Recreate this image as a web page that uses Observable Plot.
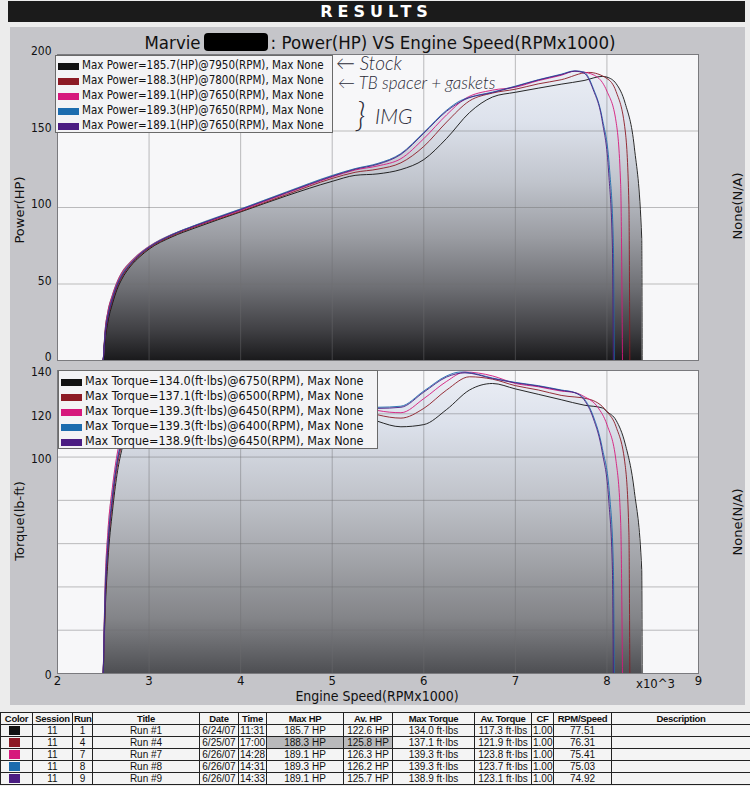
<!DOCTYPE html>
<html><head><meta charset="utf-8">
<script src="https://cdn.jsdelivr.net/npm/d3@7"></script>
<script src="https://cdn.jsdelivr.net/npm/@observablehq/plot@0.6"></script>
<style>
body{margin:0;background:#ececec;}
#page{position:relative;width:750px;height:786px;overflow:hidden;background:#ececec;font-family:"DejaVu Sans",sans-serif;color:#111;}
.abs{position:absolute;}
#bar{left:8px;top:1px;width:737px;height:21px;background:#1b1b1b;color:#fff;font:bold 16px "DejaVu Sans",sans-serif;letter-spacing:5px;text-align:center;line-height:21px;}
#panel{left:10px;top:27px;width:735px;height:678px;background:#c5c5c9;}
#title{left:60px;top:33px;width:640px;text-align:center;font-family:"DejaVu Sans Condensed","DejaVu Sans",sans-serif;font-stretch:condensed;font-size:18.5px;line-height:18px;}
.redact{display:inline-block;width:64px;height:18px;background:#000;border-radius:4px;vertical-align:-2px;margin:0 3px;}
.rot{transform:translate(-50%,-50%) rotate(-90deg);white-space:nowrap;font-size:13px;}
.leg{background:#f3f3f5;border:1px solid #6a6a6a;font-family:"DejaVu Sans Condensed","DejaVu Sans",sans-serif;font-stretch:condensed;box-sizing:border-box;padding:2px 0 0 2px;}
.leg div{white-space:nowrap;line-height:15px;height:15px;}
.sw{display:inline-block;width:21px;height:7px;margin-right:3px;vertical-align:-1px;}
.hand{font-family:Lato,"DejaVu Sans",sans-serif;font-style:italic;font-weight:300;color:#2b2b38;white-space:nowrap;}
#tbl{left:0;top:712px;width:750px;border-collapse:collapse;table-layout:fixed;font-family:"Liberation Sans Narrow","Liberation Sans",sans-serif;font-stretch:condensed;font-size:10px;background:#f4f4f4;}
#tbl td,#tbl th{border:1px solid #222;height:11px;padding:0 1px;text-align:center;line-height:11px;white-space:nowrap;overflow:hidden;}
#tbl th{font-weight:bold;font-size:9.5px;letter-spacing:-0.3px;}
#tbl .hl{background:#b9b9bb;}
.csw{display:inline-block;width:11px;height:9px;vertical-align:-1px;}
</style></head><body>
<div id="page">
  <div id="bar" class="abs">RESULTS</div>
  <div id="panel" class="abs"></div>
  <div id="title" class="abs">Marvie<span class="redact"></span>: Power(HP) VS Engine Speed(RPMx1000)</div>
  <div id="topChart" class="abs" style="left:0;top:47px;"></div>
  <div id="botChart" class="abs" style="left:0;top:362px;"></div>
  <div class="abs rot" style="left:19px;top:210px;">Power(HP)</div>
  <div class="abs rot" style="left:19px;top:521px;">Torque(lb-ft)</div>
  <div class="abs rot" style="left:737px;top:206px;">None(N/A)</div>
  <div class="abs rot" style="left:737px;top:522px;">None(N/A)</div>
  <div class="abs" style="left:377px;top:688px;transform:translateX(-50%);font-size:14px;line-height:16px;font-family:'DejaVu Sans Condensed','DejaVu Sans',sans-serif;font-stretch:condensed;white-space:nowrap;">Engine Speed(RPMx1000)</div>
  <div class="abs" style="left:636px;top:676px;font-size:13px;font-family:'DejaVu Sans Condensed','DejaVu Sans',sans-serif;font-stretch:condensed;">x10^3</div>
  <div id="legTop" class="abs leg" style="left:55px;top:55px;width:278px;height:78px;font-size:11.5px;"></div>
  <div id="legBot" class="abs leg" style="left:58px;top:370px;width:320px;height:79px;font-size:12.5px;"></div>
  <div class="abs hand" style="left:336px;top:55px;font-size:19px;line-height:16px;">&larr; Stock</div>
  <div class="abs hand" style="left:338px;top:75px;font-size:17px;line-height:15px;">&larr; TB spacer + gaskets</div>
  <div class="abs hand" style="left:356px;top:97px;font-size:34px;line-height:34px;">}</div>
  <div class="abs hand" style="left:375px;top:106px;font-size:21px;line-height:20px;">IMG</div>
  <table id="tbl" class="abs"></table>
</div>
<script>
// ---- series meta ----
const runNames = ["Run #1", "Run #4", "Run #7", "Run #8", "Run #9"];
const runColors = ["#111111", "#8c1a24", "#d6187c", "#1c6cae", "#4b1d82"];
const powerLegend = [
  "Max Power=185.7(HP)@7950(RPM), Max None",
  "Max Power=188.3(HP)@7800(RPM), Max None",
  "Max Power=189.1(HP)@7650(RPM), Max None",
  "Max Power=189.3(HP)@7650(RPM), Max None",
  "Max Power=189.1(HP)@7650(RPM), Max None"
];
const torqueLegend = [
  "Max Torque=134.0(ft·lbs)@6750(RPM), Max None",
  "Max Torque=137.1(ft·lbs)@6500(RPM), Max None",
  "Max Torque=139.3(ft·lbs)@6450(RPM), Max None",
  "Max Torque=139.3(ft·lbs)@6400(RPM), Max None",
  "Max Torque=138.9(ft·lbs)@6450(RPM), Max None"
];

// ---- Run #1 (stock) ----
const rpmRun1 = [2500,2520,2550,2600,2650,2700,2800,2900,3000,3250,3500,4000,4500,5000,5250,5500,5750,6000,6250,6500,6750,7000,7250,7500,7750,7950,8000,8100,8200,8300,8380,8385];
const hpRun1  = [0,13.4,25.2,37.1,46.4,52.9,61.8,67.9,72.8,80.8,86.6,97.1,107.6,117.1,121,122,124.8,131.3,145.2,162.1,172.2,175.3,178,180.6,183,185.7,185.2,181,168,139,80,0];
const tqRun1  = [0,28,52,75,92,103,116,123,127.5,130.5,130,127.5,125.5,123,121,116.5,114,115,122,131,134,131.5,129,126.5,124,122.7,121,117,106,84,48,0];
// ---- Run #4 (TB spacer + gaskets) ----
const rpmRun4 = [2500,2520,2550,2600,2650,2700,2800,2900,3000,3250,3500,4000,4500,5000,5250,5500,5750,6000,6250,6500,6750,7000,7250,7500,7800,8000,8100,8200,8240,8250];
const hpRun4  = [0,14.9,27.2,39.1,47.9,54.2,62.6,68.7,73.4,81.4,87.3,97.5,108.4,119,123,125.1,129.2,139.9,155.9,169.7,174.8,177.3,180.8,183.5,188.3,184.3,175.8,150,102,0];
const tqRun4  = [0,31,56,79,95,105.5,117.5,124.5,128.5,131.5,131,128,126.5,125,123,119.5,118,122.5,131,137.1,136,133,131,128.5,126.8,121,114,96,65,0];
// ---- Run #7 (IMG) ----
const rpmRun7 = [2500,2520,2550,2600,2650,2700,2800,2900,3000,3250,3500,4000,4500,5000,5250,5500,5750,6000,6250,6450,6750,7000,7250,7500,7650,7750,7900,8000,8100,8150,8170];
const hpRun7  = [0,19.2,31.6,42.6,51,57.1,64.5,70.1,74.5,82.3,87.9,98.2,109.3,120,124.5,127.2,131.9,145,160.6,171.1,176.7,178.6,182.9,186.4,189.1,188.5,185,176,156,115,0];
const tqRun7  = [0,40,65,86,101,111,121,127,130.5,133,132,129,127.5,126,124.5,121.5,120.5,127,135,139.3,137.5,134,132.5,130.5,129.8,128,123,115,98,70,0];
// ---- Run #8 (IMG) ----
const rpmRun8 = [2500,2520,2550,2600,2650,2700,2800,2900,3000,3250,3500,4000,4500,5000,5250,5500,5750,6000,6250,6400,6500,6750,7000,7250,7500,7650,7750,7850,7950,8030,8070,8080];
const hpRun8  = [0,17.3,29.1,40.6,49.5,55.5,63.4,69.6,74.2,82.3,88.3,99,110.1,120.9,125.4,128.8,135.2,149,163.6,169.8,172,175.4,179.3,183.5,187.1,189.3,188.5,178,158,124,77,0];
const tqRun8  = [0,36,60,82,98,108,119,126,130,133,132.5,130,128.5,127,125.5,123,123.5,130.5,137.5,139.3,139,136.5,134.5,133,131,129.8,127,119,104,82,50,0];
// ---- Run #9 (IMG) ----
const rpmRun9 = [2500,2520,2550,2600,2650,2700,2800,2900,3000,3250,3500,4000,4500,5000,5250,5500,5750,6000,6250,6450,6750,7000,7250,7500,7650,7750,7850,7950,8020,8060,8070];
const hpRun9  = [0,16.3,28.2,40.1,48.9,55,63.2,69.3,73.9,82,88,98.6,109.7,120.4,125,128.3,134.7,148.5,163,170.6,175.1,179,183.3,186.8,189.1,187.8,177,156,122,74,0];
const tqRun9  = [0,34,58,81,97,107,118.5,125.5,129.5,132.5,132,129.5,128,126.5,125,122.5,123,130,137,138.9,136.3,134.3,132.8,130.8,129.7,126.5,118,102,80,48,0];

// ---- axes ----
const xTicks = [2,3,4,5,6,7,8,9];
const hpTicks = [0,50,100,150,200];
const tqGrid = [0,20,40,60,80,100,120,140];
const tqLabels = [0,100,120,140];

// ---- results table ----
const tblHeader = ["Color","Session","Run","Title","Date","Time","Max HP","Av. HP","Max Torque","Av. Torque","CF","RPM/Speed","Description"];
const tblSession = ["11","11","11","11","11"];
const tblRun = ["1","4","7","8","9"];
const tblDate = ["6/24/07","6/25/07","6/26/07","6/26/07","6/26/07"];
const tblTime = ["11:31","17:00","14:28","14:31","14:33"];
const tblMaxHP = ["185.7 HP","188.3 HP","189.1 HP","189.3 HP","189.1 HP"];
const tblAvHP = ["122.6 HP","125.8 HP","126.3 HP","126.2 HP","125.7 HP"];
const tblMaxTq = ["134.0 ft·lbs","137.1 ft·lbs","139.3 ft·lbs","139.3 ft·lbs","138.9 ft·lbs"];
const tblAvTq = ["117.3 ft·lbs","121.9 ft·lbs","123.8 ft·lbs","123.7 ft·lbs","123.1 ft·lbs"];
const tblCF = ["1.00","1.00","1.00","1.00","1.00"];
const tblRpmSpeed = ["77.51","76.31","75.41","75.03","74.92"];
const tblColWidths = [32,40,20,107,39,28,77,49,82,57,22,58,139];

// ---- build ----
const rpmAll = [rpmRun1, rpmRun4, rpmRun7, rpmRun8, rpmRun9];
const hpAll = [hpRun1, hpRun4, hpRun7, hpRun8, hpRun9];
const tqAll = [tqRun1, tqRun4, tqRun7, tqRun8, tqRun9];
const series = runNames.map((name, i) => ({
  name, color: runColors[i],
  rows: rpmAll[i].map((r, j) => ({x: r / 1000, hp: hpAll[i][j], tq: tqAll[i][j]}))
}));

function addGradient(svg, id, y1, y2, stops) {
  const ns = "http://www.w3.org/2000/svg";
  const defs = document.createElementNS(ns, "defs");
  const g = document.createElementNS(ns, "linearGradient");
  g.setAttribute("id", id);
  g.setAttribute("gradientUnits", "userSpaceOnUse");
  g.setAttribute("x1", 0); g.setAttribute("x2", 0);
  g.setAttribute("y1", y1); g.setAttribute("y2", y2);
  for (const [o, c] of stops) {
    const s = document.createElementNS(ns, "stop");
    s.setAttribute("offset", o); s.setAttribute("stop-color", c);
    g.appendChild(s);
  }
  defs.appendChild(g);
  svg.insertBefore(defs, svg.firstChild);
}

const baseStyle = {background: "transparent", fontFamily: "'DejaVu Sans Condensed','DejaVu Sans',sans-serif", fontSize: "12px", color: "#111", overflow: "visible"};

function chart({key, domain, grid, labels, gradId, height, mt, mb, xAxis, labelDy}) {
  const marks = [
    Plot.frame({fill: "#f7f7f9"}),
    ...series.map(s => Plot.areaY(s.rows, {x: "x", y: key, fill: `url(#${gradId})`, curve: "monotone-x"})),
    Plot.gridX(xTicks, {stroke: "#6e6e72", strokeOpacity: 0.45}),
    Plot.gridY(grid, {stroke: "#6e6e72", strokeOpacity: 0.45}),
    ...series.map(s => Plot.lineY(s.rows, {x: "x", y: key, stroke: s.color, strokeWidth: 0.9, curve: "monotone-x"})),
    Plot.axisY(labels, {tickSize: 0, tickPadding: 6, fontSize: 12, label: null, dy: labelDy}),
    Plot.frame({stroke: "#7a7a7e"})
  ];
  if (xAxis) marks.push(Plot.axisX(xTicks, {tickSize: 0, tickPadding: 2, fontSize: 13, label: null}));
  return Plot.plot({
    width: 750, height, marginLeft: 57, marginRight: 52, marginTop: mt, marginBottom: mb,
    style: baseStyle,
    x: {domain: [2, 9], axis: null, label: null},
    y: {domain, axis: null, label: null},
    marks
  });
}

const topSvg = chart({key: "hp", domain: [0, 200], grid: hpTicks, labels: hpTicks, gradId: "gTop", height: 316, mt: 7, mb: 3, xAxis: false, labelDy: -3});
addGradient(topSvg, "gTop", 7, 313, [[0, "#eef1f7"], [0.22, "#dde2ec"], [0.42, "#c0c4cc"], [0.6, "#9a9ca2"], [0.76, "#6f7075"], [0.9, "#414145"], [1, "#1a1a1c"]]);
document.getElementById("topChart").appendChild(topSvg);

const botSvg = chart({key: "tq", domain: [0, 140], grid: tqGrid, labels: tqLabels, gradId: "gBot", height: 341, mt: 8, mb: 30, xAxis: true, labelDy: 2});
addGradient(botSvg, "gBot", 8, 311, [[0, "#eceff6"], [0.18, "#dce1eb"], [0.42, "#c0c3ca"], [0.62, "#a3a5aa"], [0.82, "#838488"], [1, "#4e4f53"]]);
document.getElementById("botChart").appendChild(botSvg);

// legends
function fillLegend(id, labels) {
  const el = document.getElementById(id);
  labels.forEach((t, i) => {
    const row = document.createElement("div");
    const sw = document.createElement("span");
    sw.className = "sw"; sw.style.background = runColors[i];
    row.appendChild(sw);
    row.appendChild(document.createTextNode(t));
    el.appendChild(row);
  });
}
fillLegend("legTop", powerLegend);
fillLegend("legBot", torqueLegend);

// table
const tbl = document.getElementById("tbl");
const cg = document.createElement("colgroup");
tblColWidths.forEach(w => { const c = document.createElement("col"); c.style.width = w + "px"; cg.appendChild(c); });
tbl.appendChild(cg);
const hr = document.createElement("tr");
tblHeader.forEach(h => { const th = document.createElement("th"); th.textContent = h; hr.appendChild(th); });
tbl.appendChild(hr);
runNames.forEach((name, i) => {
  const tr = document.createElement("tr");
  const cells = ["", tblSession[i], tblRun[i], name, tblDate[i], tblTime[i], tblMaxHP[i], tblAvHP[i], tblMaxTq[i], tblAvTq[i], tblCF[i], tblRpmSpeed[i], ""];
  cells.forEach((v, k) => {
    const td = document.createElement("td");
    if (k === 0) {
      const s = document.createElement("span"); s.className = "csw"; s.style.background = runColors[i]; td.appendChild(s);
      td.style.textAlign = "left"; td.style.paddingLeft = "8px";
    } else td.textContent = v;
    if (i === 1 && (k === 6 || k === 7)) td.className = "hl";
    tr.appendChild(td);
  });
  tbl.appendChild(tr);
});
</script>
</body></html>
